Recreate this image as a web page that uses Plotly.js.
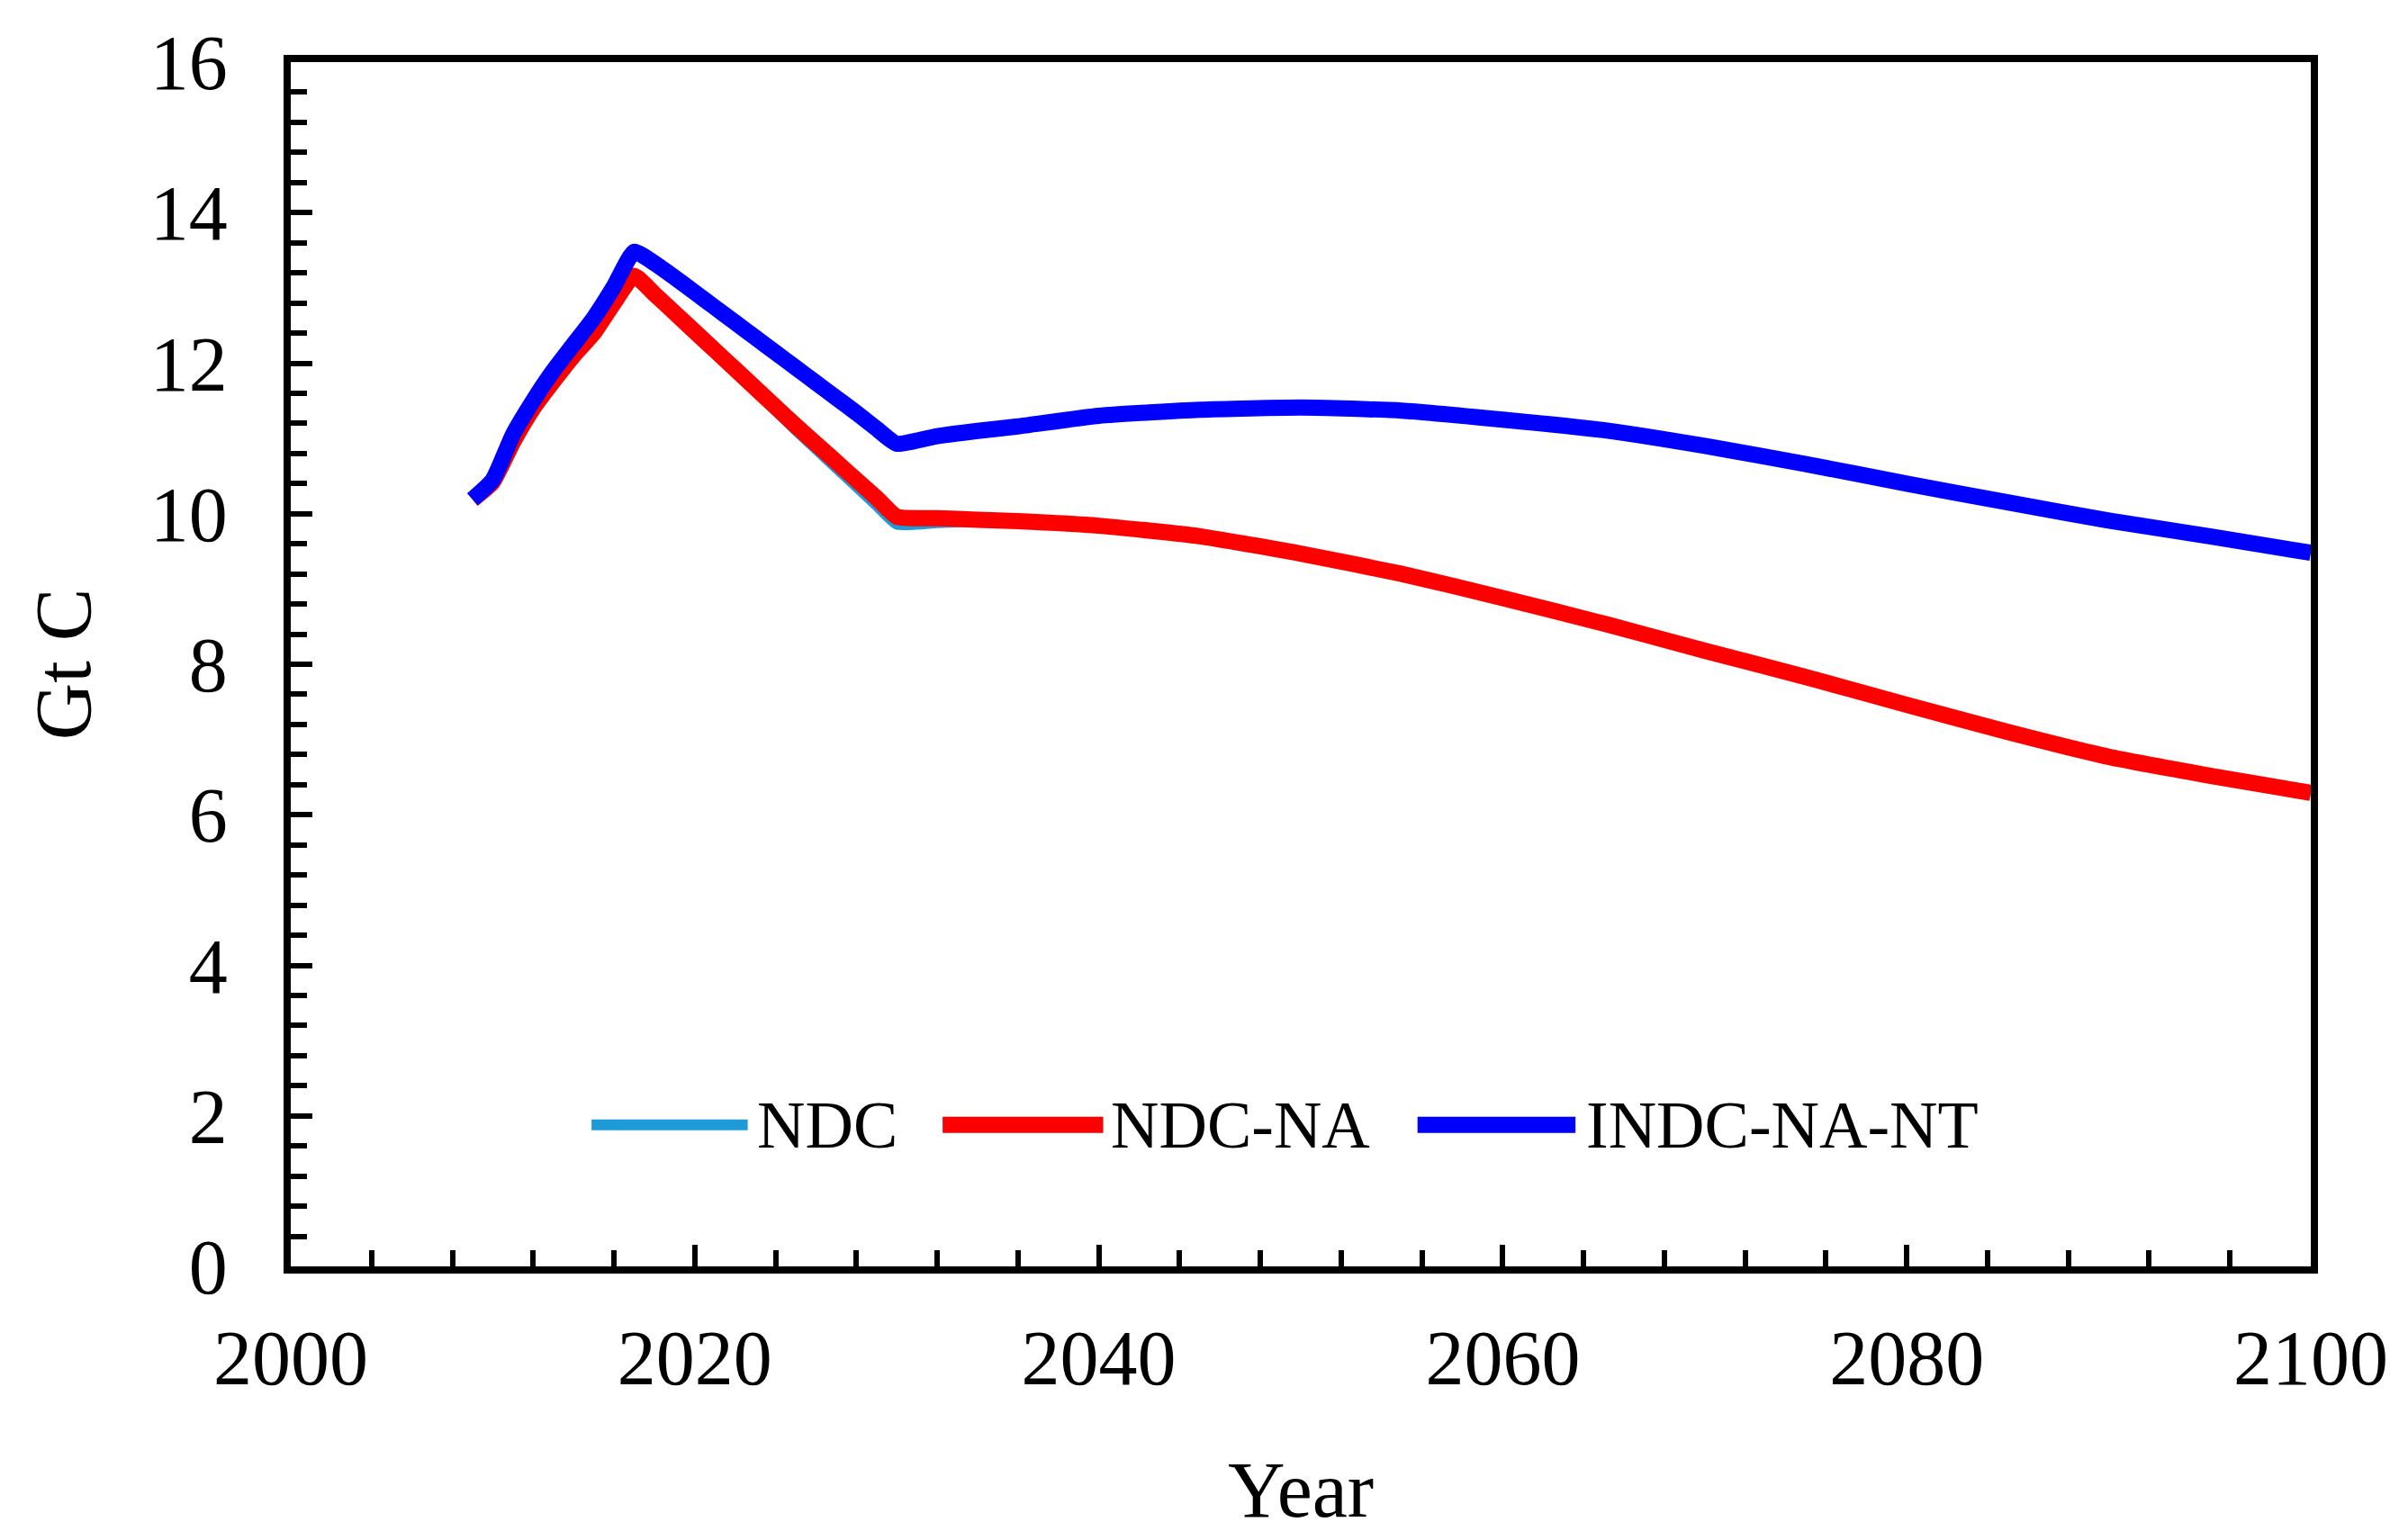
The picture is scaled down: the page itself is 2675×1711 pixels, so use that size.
<!DOCTYPE html>
<html>
<head>
<meta charset="utf-8">
<script src="https://cdn.plot.ly/plotly-3.0.1.min.js"></script>
<style>html,body{margin:0;padding:0;background:#fff;}#chart{width:2675px;height:1711px;}</style>
</head>
<body>
<div id="chart"></div>
<script>
// Years (x values)
const years = [2009,2010,2011,2012,2013,2014,2015,2016,2017,2018,2019,2020,2021,2022,2023,2024,2025,2026,2027,2028,2029,2030,
               2032,2034,2036,2040,2045,2050,2055,2060,2065,2070,2075,2080,2085,2090,2095,2100];

// Series values (Gt C)
const ndc = [10.19,10.42,10.95,11.40,11.76,12.10,12.40,12.80,13.16,12.91,12.66,12.41,12.15,11.89,11.63,11.37,11.11,10.86,10.61,10.36,10.11,9.86,
             9.88,9.90,9.90,9.84,9.70,9.47,9.20,8.88,8.54,8.18,7.83,7.46,7.10,6.77,6.52,6.29];
const ndcNA = [10.19,10.42,10.95,11.40,11.76,12.10,12.40,12.80,13.16,12.92,12.67,12.42,12.17,11.92,11.67,11.42,11.17,10.93,10.69,10.45,10.21,9.96,
               9.94,9.92,9.90,9.84,9.70,9.47,9.20,8.88,8.54,8.18,7.83,7.46,7.10,6.77,6.52,6.29];
const indcNANT = [10.19,10.45,11.05,11.50,11.90,12.25,12.60,13.02,13.48,13.33,13.14,12.94,12.74,12.54,12.34,12.14,11.94,11.74,11.54,11.34,11.13,10.93,
                  11.03,11.10,11.16,11.30,11.38,11.41,11.37,11.25,11.11,10.90,10.66,10.40,10.15,9.91,9.70,9.48];

const seriesNames = ['NDC', 'NDC-NA', 'INDC-NA-NT'];
const seriesColors = ['#1E9BD7', '#FF0000', '#0000FF'];
const seriesWidths = [12, 18, 18];

// Tick labels
const xTickVals = [2000, 2020, 2040, 2060, 2080, 2100];
const xTickText = ['2000', '2020', '2040', '2060', '2080', '2100'];
const yTickVals = [0, 2, 4, 6, 8, 10, 12, 14, 16];
const yTickText = ['0', '2', '4', '6', '8', '10', '12', '14', '16'];

const FONT = '"Liberation Serif", "Times New Roman", Times, serif';

const data = [ndc, ndcNA, indcNANT].map((vals, i) => ({
  type: 'scatter',
  mode: 'lines',
  x: years,
  y: vals,
  name: seriesNames[i],
  line: {color: seriesColors[i], width: seriesWidths[i], shape: 'spline', smoothing: 0.5},
  showlegend: false
}));

// Custom legend (long line samples like the original)
const legendY = 0.1175;
const legendItems = [
  {x0: 0.1489, x1: 0.2262, tx: 0.2298},
  {x0: 0.3227, x1: 0.4022, tx: 0.4053},
  {x0: 0.5578, x1: 0.6360, tx: 0.6404}
];
const shapes = legendItems.map((it, i) => ({
  type: 'line', xref: 'paper', yref: 'paper',
  x0: it.x0, x1: it.x1, y0: legendY, y1: legendY,
  line: {color: seriesColors[i], width: seriesWidths[i]}
}));
const annotations = legendItems.map((it, i) => ({
  xref: 'paper', yref: 'paper', x: it.tx, y: legendY,
  xanchor: 'left', yanchor: 'middle', showarrow: false,
  text: seriesNames[i], font: {family: FONT, size: 74, color: '#000'}
}));

const layout = {
  width: 2675, height: 1711,
  paper_bgcolor: '#fff', plot_bgcolor: '#fff',
  margin: {l: 323, r: 108, t: 69, b: 304, pad: 0},
  font: {family: FONT, color: '#000'},
  showlegend: false,
  xaxis: {
    range: [2000, 2100],
    tickvals: xTickVals, ticktext: xTickText,
    ticks: 'inside', ticklen: 24, tickwidth: 6, tickcolor: '#000',
    minor: {dtick: 4, tick0: 2000, ticks: 'inside', ticklen: 18, tickwidth: 6, tickcolor: '#000', showgrid: false},
    showline: true, linewidth: 8, linecolor: '#000', mirror: true,
    showgrid: false, zeroline: false,
    tickfont: {family: FONT, size: 86, color: '#000'},
    ticklabelstandoff: 20,
    title: {text: 'Year', font: {family: FONT, size: 88, color: '#000'}, standoff: 70}
  },
  yaxis: {
    range: [0, 16],
    tickvals: yTickVals, ticktext: yTickText,
    ticks: 'inside', ticklen: 24, tickwidth: 6, tickcolor: '#000',
    minor: {dtick: 0.4, tick0: 0, ticks: 'inside', ticklen: 18, tickwidth: 6, tickcolor: '#000', showgrid: false},
    showline: true, linewidth: 8, linecolor: '#000', mirror: true,
    showgrid: false, zeroline: false,
    tickfont: {family: FONT, size: 86, color: '#000'},
    ticklabelstandoff: 45,
    title: {text: 'Gt C', font: {family: FONT, size: 88, color: '#000'}, standoff: 40}
  },
  shapes: shapes,
  annotations: annotations
};

Plotly.newPlot('chart', data, layout, {staticPlot: true, displayModeBar: false});
</script>
</body>
</html>
